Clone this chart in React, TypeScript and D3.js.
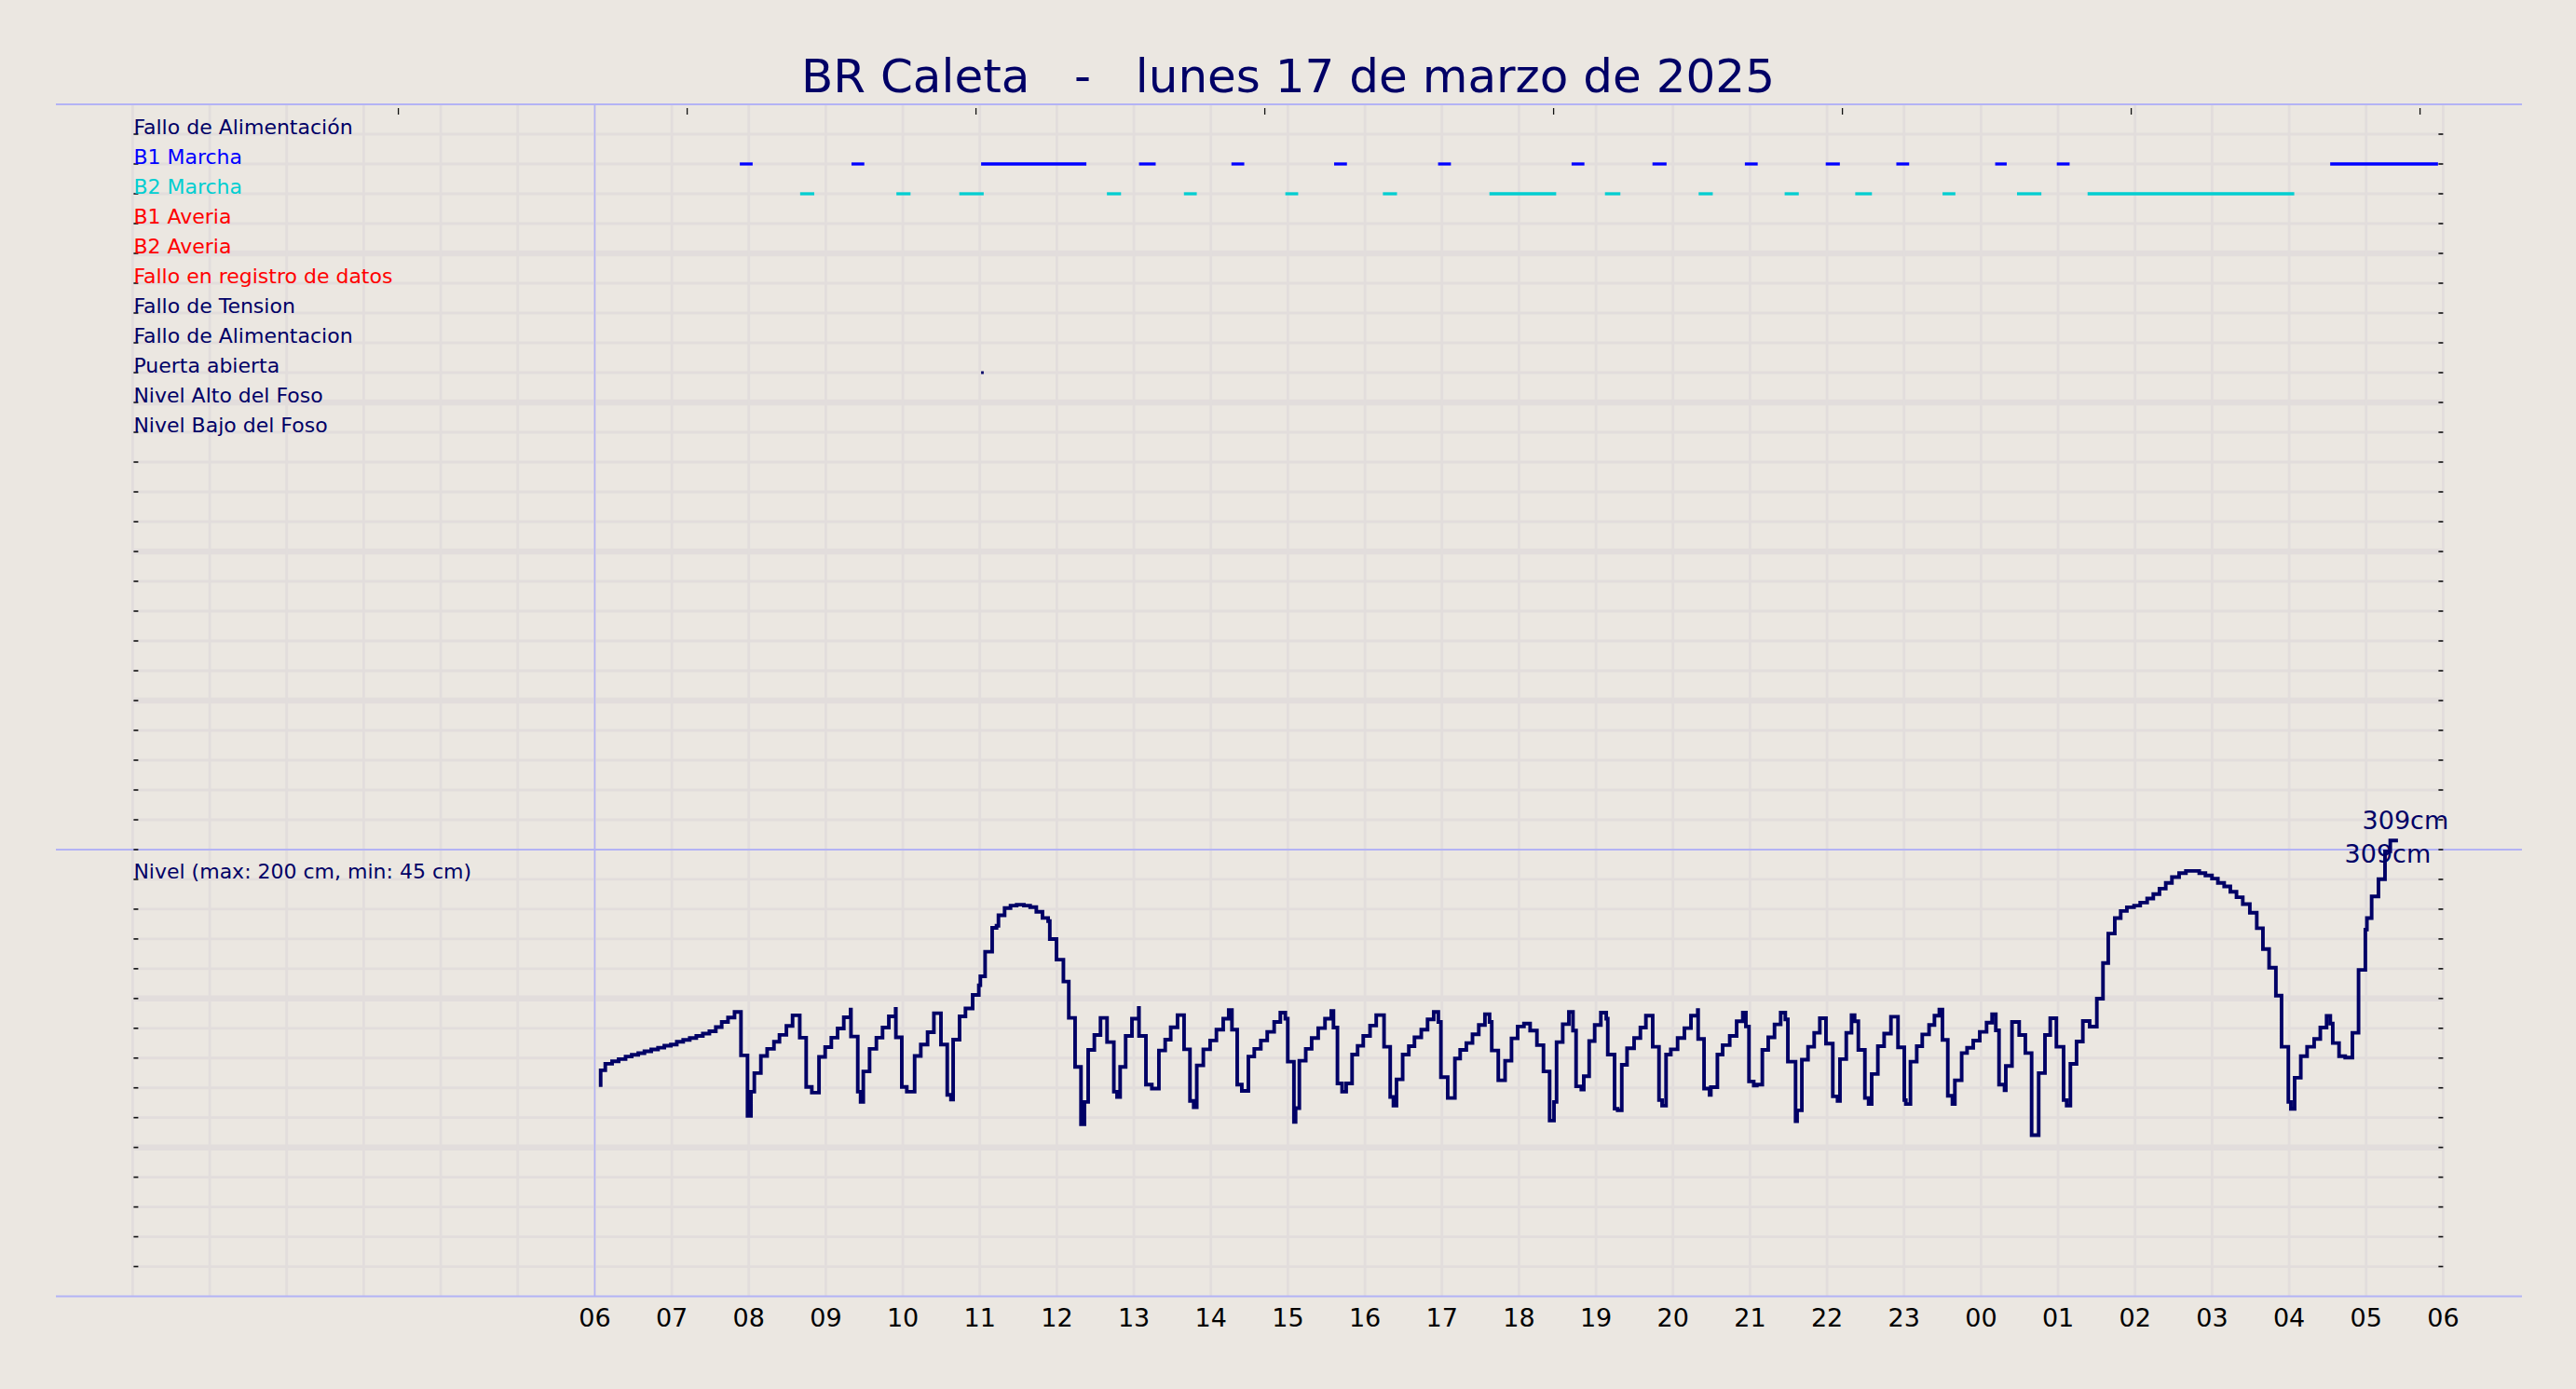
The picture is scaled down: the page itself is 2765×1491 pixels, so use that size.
import React from 'react';
import * as d3 from 'd3';

// ---------- data ----------
const TITLE = 'BR Caleta   -   lunes 17 de marzo de 2025';

const STATUS_LABELS = [
  'Fallo de Alimentación',
  'B1 Marcha',
  'B2 Marcha',
  'B1 Averia',
  'B2 Averia',
  'Fallo en registro de datos',
  'Fallo de Tension',
  'Fallo de Alimentacion',
  'Puerta abierta',
  'Nivel Alto del Foso',
  'Nivel Bajo del Foso',
];
const STATUS_COLORS = [
  '#000066', '#0000ff', '#00ced1', '#ff0000', '#ff0000', '#ff0000',
  '#000066', '#000066', '#000066', '#000066', '#000066',
];

// intervals in minutes since 00:00 of the first day
const B1_MARCHA: [number, number][] = [
  [473, 483], [560, 570], [661, 743], [784, 797], [856, 866], [936, 946],
  [1017, 1027], [1121, 1131], [1184, 1195], [1256, 1266], [1319, 1330],
  [1374, 1384], [1451, 1460], [1499, 1509], [1712, 1796],
];
const B2_MARCHA: [number, number][] = [
  [520, 531], [595, 606], [644, 663], [759, 770], [819, 829], [898, 908],
  [974, 985], [1057, 1109], [1147, 1159], [1220, 1231], [1287, 1298],
  [1342, 1355], [1410, 1420], [1468, 1487], [1523, 1684],
];
const PUERTA_ABIERTA: [number, number][] = [[661, 663]];

const HOUR_LABELS = [
  '06', '07', '08', '09', '10', '11', '12', '13', '14', '15', '16', '17', '18',
  '19', '20', '21', '22', '23', '00', '01', '02', '03', '04', '05', '06',
];
const HOUR_LABEL_MIN = [
  360, 420, 480, 540, 600, 660, 720, 780, 840, 900, 960, 1020, 1080, 1140,
  1200, 1260, 1320, 1380, 1440, 1500, 1560, 1620, 1680, 1740, 1800,
];
const TOP_TICKS_MIN = [207, 432, 657, 882, 1107, 1332, 1557, 1782];

const LEVEL_LABEL = 'Nivel (max: 200 cm, min: 45 cm)';
const LEVEL_ANNOTATIONS = ['309cm', '309cm'];

// [minute, cm]
const LEVEL: [number, number][] = [
  [364.6, 140.6], [368.2, 151.8], [373.5, 156.2], [378.6, 157.8], [384.0, 159.3],
  [388.8, 161.0], [393.9, 162.2], [398.7, 163.3], [404.0, 164.5], [409.3, 165.8],
  [414.2, 167.0], [419.3, 168.3], [423.9, 169.1], [428.9, 171.0], [434.0, 172.2],
  [439.1, 173.5], [444.2, 174.9], [449.3, 176.4], [454.3, 178.0], [458.9, 180.8],
  [463.8, 184.3], [468.9, 187.2], [473.9, 191.0], [479.0, 161.8], [481.7, 121.2],
  [484.3, 137.4], [489.4, 149.9], [494.3, 161.4], [499.6, 166.2], [503.9, 171.0],
  [509.3, 175.6], [514.1, 181.6], [519.7, 188.7], [524.7, 173.7], [529.1, 140.6],
  [534.7, 136.8], [539.5, 160.8], [544.3, 167.4], [549.2, 173.7], [554.0, 179.9],
  [559.3, 187.4], [559.6, 192.6], [564.9, 174.5], [567.1, 137.4], [569.2, 130.6],
  [574.1, 151.0], [579.4, 166.2], [584.2, 173.7], [589.1, 180.5], [594.4, 188.0],
  [594.6, 193.0], [599.2, 173.9], [603.1, 140.6], [609.2, 137.4], [614.0, 161.4],
  [619.3, 169.1], [624.2, 177.4], [629.7, 190.1], [634.6, 169.1], [637.5, 135.3],
  [639.2, 132.2], [644.2, 172.4], [648.8, 188.0], [654.4, 193.3], [659.2, 202.4],
  [660.4, 208.9], [664.1, 214.9], [669.6, 231.4], [673.0, 247.4], [674.5, 248.9],
  [679.3, 255.9], [683.9, 260.7], [688.7, 262.4], [694.3, 263.0], [699.2, 262.4],
  [704.0, 261.4], [708.8, 258.2], [713.2, 254.1], [714.5, 252.0], [719.7, 239.9],
  [725.1, 226.1], [729.3, 211.4], [734.2, 187.0], [738.8, 154.1], [741.5, 115.5],
  [744.4, 130.5], [749.2, 165.5], [754.0, 175.5], [759.1, 187.0], [764.4, 170.7],
  [766.9, 137.4], [769.3, 133.9], [773.6, 154.1], [778.5, 174.9], [783.8, 186.4],
  [784.0, 193.7], [789.4, 174.9], [794.0, 142.2], [799.5, 139.5], [804.4, 165.1],
  [808.7, 172.4], [814.0, 180.7], [819.1, 188.9], [823.7, 165.9], [826.6, 131.2],
  [829.0, 127.0], [834.1, 155.1], [839.4, 165.9], [844.3, 171.8], [849.6, 179.1],
  [853.9, 186.4], [856.4, 192.2], [860.5, 179.1], [864.1, 142.2], [869.2, 138.0],
  [873.8, 161.0], [878.9, 166.2], [883.9, 171.8], [889.3, 177.6], [894.1, 184.3],
  [898.0, 190.5], [899.9, 186.4], [904.7, 157.6], [906.0, 117.2], [908.9, 126.4],
  [913.9, 158.2], [918.5, 166.2], [923.6, 173.5], [928.9, 180.1], [933.8, 186.4],
  [935.5, 191.6], [938.6, 180.5], [942.2, 143.0], [945.4, 137.4], [950.0, 143.0],
  [954.3, 162.4], [958.7, 168.2], [964.0, 174.9], [968.8, 181.8], [974.9, 188.9],
  [979.7, 167.6], [982.2, 133.9], [984.6, 128.0], [989.4, 145.7], [994.2, 162.4],
  [998.6, 168.0], [1003.9, 173.9], [1008.8, 179.1], [1013.6, 186.0], [1017.2, 191.0],
  [1019.2, 184.3], [1024.5, 147.2], [1030.1, 133.2], [1034.2, 159.7], [1039.0, 165.5],
  [1043.8, 170.1], [1048.7, 176.0], [1053.5, 182.2], [1057.1, 189.5], [1058.8, 184.3],
  [1063.9, 165.1], [1069.2, 145.1], [1074.2, 158.2], [1079.0, 173.2], [1083.9, 181.2],
  [1088.7, 183.2], [1094.0, 178.5], [1099.1, 168.7], [1103.9, 151.0], [1107.3, 118.0],
  [1109.3, 130.5], [1114.1, 170.7], [1118.9, 182.8], [1122.1, 191.0], [1124.5, 178.5],
  [1128.6, 141.0], [1130.5, 138.9], [1134.7, 147.8], [1139.0, 171.4], [1143.8, 182.2],
  [1148.0, 190.5], [1149.2, 186.4], [1154.5, 162.4], [1156.9, 126.0], [1160.1, 124.9],
  [1164.2, 155.5], [1169.7, 166.6], [1174.6, 173.5], [1178.9, 180.5], [1184.2, 188.5],
  [1189.1, 167.6], [1191.5, 131.8], [1194.6, 128.0], [1198.3, 162.4], [1203.6, 165.9],
  [1208.9, 173.5], [1214.0, 180.1], [1219.3, 188.5], [1219.6, 192.2], [1224.2, 172.8],
  [1228.5, 139.5], [1229.5, 135.3], [1234.6, 140.5], [1238.7, 162.4], [1244.2, 168.7],
  [1249.6, 174.9], [1254.4, 184.7], [1256.8, 190.5], [1259.2, 181.2], [1262.9, 144.3],
  [1265.3, 141.6], [1269.6, 142.2], [1274.2, 165.5], [1279.1, 173.9], [1283.9, 182.6],
  [1287.5, 190.5], [1289.5, 186.0], [1295.5, 157.6], [1296.7, 117.6], [1300.4, 124.9],
  [1305.2, 158.9], [1310.0, 167.6], [1314.4, 177.0], [1319.2, 186.8], [1324.5, 169.7],
  [1328.2, 134.3], [1330.1, 131.2], [1335.0, 159.3], [1339.1, 177.0], [1341.5, 188.9],
  [1344.4, 184.7], [1349.5, 165.5], [1352.4, 133.2], [1354.8, 129.1], [1359.6, 149.3],
  [1364.5, 168.0], [1369.8, 176.4], [1375.3, 187.8], [1380.2, 167.2], [1381.4, 131.8],
  [1385.0, 129.1], [1389.9, 157.6], [1394.2, 168.0], [1399.5, 175.9], [1403.7, 182.2],
  [1407.5, 188.5], [1409.9, 192.6], [1414.1, 172.2], [1417.7, 134.7], [1419.6, 129.1],
  [1424.9, 145.1], [1429.1, 163.4], [1433.9, 166.9], [1439.0, 171.7], [1444.3, 177.6],
  [1448.6, 183.8], [1451.5, 189.5], [1454.0, 178.6], [1458.3, 142.2], [1459.3, 138.4],
  [1464.1, 154.7], [1469.7, 184.3], [1474.5, 175.5], [1479.4, 163.4], [1484.9, 108.2],
  [1489.8, 149.9], [1493.9, 175.5], [1498.7, 186.8], [1504.3, 167.6], [1506.7, 131.8],
  [1509.6, 128.0], [1514.4, 156.1], [1519.3, 171.1], [1524.6, 184.9], [1530.2, 181.1],
  [1535.0, 199.9], [1539.1, 223.8], [1544.2, 243.6], [1548.8, 254.0], [1553.6, 258.8],
  [1559.2, 261.3], [1564.0, 262.4], [1569.4, 264.4], [1574.2, 267.2], [1579.0, 270.1],
  [1583.9, 273.8], [1588.7, 277.6], [1594.3, 281.5], [1599.6, 284.2], [1610.0, 285.7],
  [1614.8, 284.2], [1619.9, 282.6], [1624.5, 280.5], [1629.4, 277.6], [1634.2, 275.3],
  [1639.0, 271.7], [1643.9, 268.0], [1649.4, 263.4], [1654.8, 257.6], [1659.6, 247.2],
  [1664.4, 233.2], [1669.7, 220.7], [1674.1, 201.9], [1679.4, 167.6], [1681.4, 130.5],
  [1684.3, 125.9], [1689.1, 146.8], [1694.0, 161.3], [1699.5, 167.6], [1704.3, 172.8],
  [1709.2, 180.5], [1712.1, 188.4], [1714.0, 183.2], [1718.9, 170.1], [1723.7, 161.3],
  [1729.3, 160.3], [1734.1, 177.0], [1739.4, 219.2], [1740.6, 246.3], [1744.3, 254.0],
  [1749.6, 268.6], [1754.7, 280.1], [1758.8, 298.8], [1764.8, 306.1],
];

// ---------- layout ----------
const W = 2765;
const H = 1491;
const PLOT_L = 142.4;
const PLOT_R = 2622.4;
const TOP = 112;
const MID = 912;
const BOTTOM = 1391.5;
const FRAME_L = 60;
const FRAME_R = 2707;

const BG = '#ebe7e1';
const GRID = '#e2dddc';
const FRAME = '#b3b3f5';
const NAVY = '#000066';
const FONT = '"DejaVu Sans", Verdana, sans-serif';

export default function App() {
  const x = d3.scaleLinear().domain([0, 1800]).range([PLOT_L, PLOT_R]);
  const row = d3.scaleLinear().domain([0, 25]).range([TOP, MID]);
  const lvl = d3.scaleLinear().domain([0, 300]).range([BOTTOM, MID]);

  const hours = d3.range(0, 31);
  const rows = d3.range(1, 25);
  const lvlTicks = d3.range(20, 300, 20);

  const line = d3
    .line<[number, number]>()
    .x((d) => x(d[0]))
    .y((d) => lvl(d[1]))
    .curve(d3.curveStepBefore);

  const last = LEVEL[LEVEL.length - 1];
  const lastX = x(last[0]);

  const tickYs = [...rows.map((k) => row(k)), MID, ...lvlTicks.map((v) => lvl(v))];

  return (
    <svg
      width={W}
      height={H}
      viewBox={`0 0 ${W} ${H}`}
      style={{ position: 'absolute', left: 0, top: 0, display: 'block', background: BG }}
    >
      <rect x={0} y={0} width={W} height={H} fill={BG} />

      {/* horizontal grid: status panel */}
      {rows.map((k) => (
        <line
          key={'rg' + k}
          x1={PLOT_L}
          x2={PLOT_R}
          y1={row(k)}
          y2={row(k)}
          stroke={GRID}
          strokeWidth={k % 5 === 0 ? 6.5 : 2.8}
        />
      ))}
      {/* horizontal grid: level panel */}
      {lvlTicks.map((v) => (
        <line
          key={'lg' + v}
          x1={PLOT_L}
          x2={PLOT_R}
          y1={lvl(v)}
          y2={lvl(v)}
          stroke={GRID}
          strokeWidth={v % 100 === 0 ? 6.5 : 2.8}
        />
      ))}
      {/* vertical grid */}
      {hours.map((h) => (
        <line
          key={'vg' + h}
          x1={x(h * 60)}
          x2={x(h * 60)}
          y1={TOP}
          y2={BOTTOM}
          stroke={GRID}
          strokeWidth={2.8}
        />
      ))}

      {/* frame lines */}
      {[TOP, MID, BOTTOM].map((y, i) => (
        <line key={'fr' + i} x1={FRAME_L} x2={FRAME_R} y1={y} y2={y} stroke={FRAME} strokeWidth={1.8} />
      ))}
      <line x1={x(360)} x2={x(360)} y1={TOP} y2={BOTTOM} stroke={FRAME} strokeWidth={1.5} />

      {/* top tick marks */}
      {TOP_TICKS_MIN.map((m) => (
        <line key={'tt' + m} x1={x(m)} x2={x(m)} y1={TOP + 4} y2={TOP + 11} stroke="#111" strokeWidth={1.3} />
      ))}

      {/* side ticks */}
      {tickYs.map((y, i) => (
        <g key={'st' + i}>
          <line x1={PLOT_L + 1} x2={PLOT_L + 6} y1={y} y2={y} stroke="#111" strokeWidth={1.6} />
          <line x1={PLOT_R - 5} x2={PLOT_R} y1={y} y2={y} stroke="#111" strokeWidth={1.6} />
        </g>
      ))}

      {/* status bars */}
      {B1_MARCHA.map(([a, b], i) => (
        <line key={'b1' + i} x1={x(a)} x2={x(b)} y1={row(2)} y2={row(2)} stroke={STATUS_COLORS[1]} strokeWidth={3.3} />
      ))}
      {B2_MARCHA.map(([a, b], i) => (
        <line key={'b2' + i} x1={x(a)} x2={x(b)} y1={row(3)} y2={row(3)} stroke={STATUS_COLORS[2]} strokeWidth={3.3} />
      ))}
      {PUERTA_ABIERTA.map(([a, b], i) => (
        <line key={'pa' + i} x1={x(a)} x2={x(b)} y1={row(9)} y2={row(9)} stroke={STATUS_COLORS[8]} strokeWidth={3} />
      ))}

      {/* level line */}
      <path d={line(LEVEL) || ''} fill="none" stroke={NAVY} strokeWidth={3.9} strokeLinejoin="miter" />

      {/* status labels */}
      {STATUS_LABELS.map((s, i) => (
        <text
          key={'sl' + i}
          x={PLOT_L + 1}
          y={row(i + 1) - 0.5}
          fill={STATUS_COLORS[i]}
          fontFamily={FONT}
          fontSize={22}
        >
          {s}
        </text>
      ))}
      <text x={PLOT_L + 1} y={lvl(280) - 0.5} fill={NAVY} fontFamily={FONT} fontSize={22}>
        {LEVEL_LABEL}
      </text>

      {/* annotations */}
      <text x={lastX + 8} y={890} fill={NAVY} fontFamily={FONT} fontSize={27} textAnchor="middle">
        {LEVEL_ANNOTATIONS[0]}
      </text>
      <text x={lastX - 11} y={926} fill={NAVY} fontFamily={FONT} fontSize={27} textAnchor="middle">
        {LEVEL_ANNOTATIONS[1]}
      </text>

      {/* x axis labels */}
      {HOUR_LABELS.map((l, i) => (
        <text
          key={'xl' + i}
          x={x(HOUR_LABEL_MIN[i])}
          y={1424}
          fill="#000"
          fontFamily={FONT}
          fontSize={27}
          textAnchor="middle"
        >
          {l}
        </text>
      ))}

      {/* title */}
      <text
        x={W / 2}
        y={99}
        fill={NAVY}
        fontFamily={FONT}
        fontSize={50}
        textAnchor="middle"
        style={{ whiteSpace: 'pre' }}
      >
        {TITLE}
      </text>
    </svg>
  );
}
